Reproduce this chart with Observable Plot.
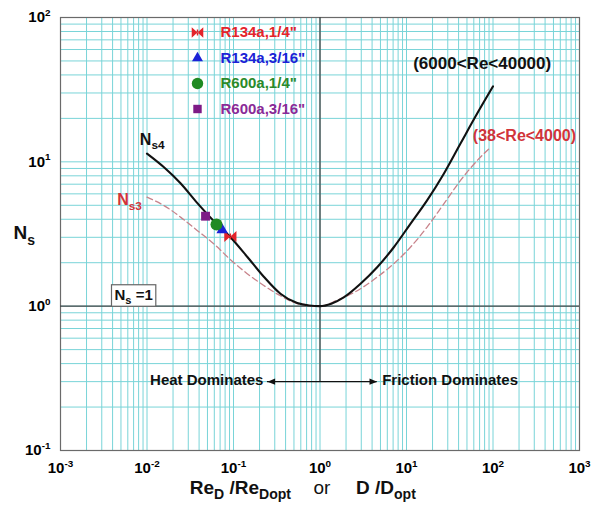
<!DOCTYPE html>
<html>
<head>
<meta charset="utf-8">
<script src="https://cdn.jsdelivr.net/npm/d3@7"></script>
<script src="https://cdn.jsdelivr.net/npm/@observablehq/plot@0.6"></script>
<style>
  html, body { margin: 0; padding: 0; background: #fff; }
  #chart { width: 597px; height: 506px; }
</style>
</head>
<body>
<div id="chart"></div>
<script>
// Entropy generation number N_s4, turbulent flow (6000 < Re < 40000)
const ns4Ratio = [0.01, 0.0156, 0.0244, 0.038, 0.059, 0.0923, 0.144, 0.224, 0.349, 0.545, 0.75, 1, 1.35, 1.88, 2.94, 4.58, 7.13, 11.1, 17.3, 27.0, 42.1, 65.6, 100];
const ns4Value = [11.4, 9.2, 7.1, 5.2, 3.9, 3.0, 2.2, 1.6, 1.22, 1.05, 1.01, 1.0, 1.04, 1.15, 1.43, 1.86, 2.56, 3.72, 5.41, 8.28, 13.4, 21.6, 33.3];

// Entropy generation number N_s3, laminar flow (38 < Re < 4000)
const ns3Ratio = [0.01, 0.0156, 0.0244, 0.038, 0.059, 0.0923, 0.144, 0.224, 0.349, 0.545, 0.75, 1, 1.58, 2.94, 4.58, 7.13, 11.1, 17.3, 27.0, 42.1, 65.6, 93.5];
const ns3Value = [5.69, 4.99, 4.14, 3.35, 2.71, 2.1, 1.68, 1.39, 1.18, 1.04, 1.01, 1.0, 1.10, 1.32, 1.59, 1.97, 2.56, 3.53, 5.11, 7.43, 10.2, 12.6];

// Operating points of the tested tubes
const caseNames = ["R134a,1/4\"", "R134a,3/16\"", "R600a,1/4\"", "R600a,3/16\""];
const caseRatio = [0.092, 0.074, 0.0636, 0.0475];
const caseNs = [3.04, 3.38, 3.68, 4.2];

// Axis ticks (powers of ten)
const xTicks = [1e-3, 1e-2, 1e-1, 1e0, 1e1, 1e2, 1e3];
const yTicks = [1e-1, 1e0, 1e1, 1e2];

// ---- drawing ----
const gridColor = "#79d4d8";
const lineDark = "#444";

const ns4 = ns4Ratio.map((x, i) => ({x, y: ns4Value[i]}));
const ns3 = ns3Ratio.map((x, i) => ({x, y: ns3Value[i]}));
const cases = caseNames.map((name, i) => ({name, x: caseRatio[i], y: caseNs[i]}));

// bow-tie marker: two triangles meeting at the centre
const bowtie = {
  draw(ctx, size) {
    const r = Math.sqrt(size / Math.PI);
    const w = r * 1.05, h = r * 0.95;
    ctx.moveTo(-w, -h); ctx.lineTo(0, 0); ctx.lineTo(-w, h); ctx.closePath();
    ctx.moveTo(w, -h); ctx.lineTo(0, 0); ctx.lineTo(w, h); ctx.closePath();
    ctx.moveTo(-0.7, -h * 0.55); ctx.lineTo(0.7, -h * 0.55); ctx.lineTo(0.7, h * 0.55); ctx.lineTo(-0.7, h * 0.55); ctx.closePath();
  }
};
// filled arrow head with its tip at the origin, pointing right
const arrowHead = {
  draw(ctx, size) {
    const r = Math.sqrt(size / Math.PI);
    ctx.moveTo(0, 0); ctx.lineTo(-2.4 * r, -r); ctx.lineTo(-2.4 * r, r); ctx.closePath();
  }
};

const caseStyle = [
  {symbol: bowtie, color: "#e3242b", text: "#e3242b", r: 5.8},
  {symbol: "triangle", color: "#1b22d6", text: "#1b22d6", r: 4.3},
  {symbol: "circle", color: "#1f8a22", text: "#2a8a2a", r: 6.0},
  {symbol: "square", color: "#7d1a86", text: "#8a2a97", r: 5.0}
];

const caseMarks = cases.map((c, i) => Plot.dot([c], {
  x: "x", y: "y", symbol: caseStyle[i].symbol, r: caseStyle[i].r,
  fill: caseStyle[i].color, stroke: "none"
}));

const legendMarks = cases.flatMap((c, i) => [
  Plot.dot([c], {
    frameAnchor: "top-left", dx: 137, dy: 15 + i * 25.5,
    symbol: caseStyle[i].symbol, r: caseStyle[i].r * 0.95,
    fill: caseStyle[i].color, stroke: "none"
  }),
  Plot.text([c.name], {
    frameAnchor: "top-left", dx: 160, dy: 15 + i * 25.5,
    textAnchor: "start", lineAnchor: "middle",
    fill: caseStyle[i].text, fontSize: 15, fontWeight: "bold"
  })
]);

const powerLabel = v => `10^{${Math.round(Math.log10(v))}}`;

const chart = Plot.plot({
  width: 597,
  height: 506,
  marginLeft: 60,
  marginRight: 18,
  marginTop: 17,
  marginBottom: 56,
  style: {
    fontFamily: "'Liberation Sans', Arial, Helvetica, sans-serif",
    fontSize: "15px",
    fontWeight: "bold",
    color: "#000",
    background: "#fff"
  },
  x: {type: "log", domain: [1e-3, 1e3], label: null},
  y: {type: "log", domain: [1e-1, 1e2], label: null},
  marks: [
    // log grid
    Plot.ruleX(d3.scaleLog().domain([1e-3, 1e3]).ticks(), {stroke: gridColor, strokeWidth: 1}),
    Plot.ruleY(d3.scaleLog().domain([1e-1, 1e2]).ticks(), {stroke: gridColor, strokeWidth: 1}),
    Plot.frame({stroke: "#6a6a6a", strokeWidth: 1.2}),

    // optimum reference lines
    Plot.ruleY([1], {stroke: lineDark, strokeWidth: 1.3}),
    Plot.ruleX([1], {y1: 0.3, y2: 100, stroke: lineDark, strokeWidth: 1.3}),

    // heat / friction arrow
    Plot.ruleY([0.3], {x1: 0.247, x2: 4.58, stroke: "#111", strokeWidth: 1.3}),
    Plot.dot([{x: 0.247, a: 180}, {x: 4.58, a: 0}], {
      x: "x", y: 0.3, rotate: "a", symbol: arrowHead, r: 3.2, fill: "#111", stroke: "none"
    }),
    Plot.text(["Heat Dominates"], {x: 0.247, y: 0.3, dx: -4, dy: -1, textAnchor: "end", fontSize: 15, fontWeight: "bold", fill: "#111"}),
    Plot.text(["Friction Dominates"], {x: 4.58, y: 0.3, dx: 5, dy: -1, textAnchor: "start", fontSize: 15, fontWeight: "bold", fill: "#111"}),

    // curves
    Plot.line(ns3, {x: "x", y: "y", curve: "monotone-x", stroke: "#c8838b", strokeWidth: 1.3, strokeDasharray: "6,3.5"}),
    Plot.line(ns4, {x: "x", y: "y", curve: "monotone-x", stroke: "#111", strokeWidth: 2.1}),

    // curve labels
    Plot.text(["N_{s4}"], {x: 0.00826, y: 14.3, textAnchor: "start", lineAnchor: "middle", fontSize: 16, fontWeight: "bold", fill: "#111"}),
    Plot.text(["N_{s3}"], {x: 0.00452, y: 5.44, textAnchor: "start", lineAnchor: "middle", fontSize: 16, fontWeight: "bold", fill: "#d2343a"}),
    Plot.text(["(6000<Re<40000)"], {x: 75, y: 47.9, textAnchor: "middle", lineAnchor: "middle", fontSize: 17, fontWeight: "bold", fill: "#111"}),
    Plot.text(["(38<Re<4000)"], {x: 231, y: 15.2, textAnchor: "middle", lineAnchor: "middle", fontSize: 16, fontWeight: "bold", fill: "#d2343a"}),
    Plot.text(["N_{s} =1"], {x: 0.00421, y: 1.196, textAnchor: "start", lineAnchor: "middle", fontSize: 15, fontWeight: "bold", fill: "#111"}),

    // measured points and their key
    ...caseMarks,
    ...legendMarks,

    // axes
    Plot.axisX(xTicks, {tickSize: 0, tickPadding: 12, tickFormat: powerLabel, fontSize: 15, fontWeight: "bold", label: null}),
    Plot.axisY(yTicks, {tickSize: 0, tickPadding: 10, tickFormat: powerLabel, fontSize: 15, fontWeight: "bold", label: null}),

    // axis titles
    Plot.text(["N_{s}"], {frameAnchor: "left", dx: -47, dy: -1, textAnchor: "start", fontSize: 19, fontWeight: "bold", fill: "#111"}),
    Plot.text(["Re_{D} /Re_{Dopt}"], {frameAnchor: "bottom", dx: -29, dy: 43, textAnchor: "end", fontSize: 19, fontWeight: "bold", fill: "#111"}),
    Plot.text(["or"], {frameAnchor: "bottom", dx: 2, dy: 43, textAnchor: "middle", fontSize: 19, fontWeight: "normal", fill: "#111"}),
    Plot.text(["D /D_{opt}"], {frameAnchor: "bottom", dx: 36, dy: 43, textAnchor: "start", fontSize: 19, fontWeight: "bold", fill: "#111"})
  ]
});

document.getElementById("chart").appendChild(chart);

// Turn _{...} and ^{...} into sub/superscript tspans
function richText(el) {
  const s = el.textContent;
  if (!/[_^]\{/.test(s)) return;
  const fs = parseFloat(getComputedStyle(el).fontSize) || 14;
  const parts = s.split(/([_^]\{[^}]*\})/).filter(p => p.length);
  while (el.firstChild) el.removeChild(el.firstChild);
  let shift = 0;
  for (const p of parts) {
    let target = 0, str = p, size = null;
    if (p.startsWith("_{")) { target = 0.3 * fs; str = p.slice(2, -1); size = 0.74 * fs; }
    else if (p.startsWith("^{")) { target = -0.42 * fs; str = p.slice(2, -1); size = 0.66 * fs; }
    const t = document.createElementNS("http://www.w3.org/2000/svg", "tspan");
    if (target - shift !== 0) t.setAttribute("dy", (target - shift).toFixed(2));
    if (size) t.setAttribute("font-size", size.toFixed(2));
    t.textContent = str;
    el.appendChild(t);
    shift = target;
  }
}

const texts = Array.from(chart.querySelectorAll("text"));
let unityLabel = null;
for (const t of texts) {
  if (t.textContent.includes("=1")) unityLabel = t;
  richText(t);
}

// boxed "N_s = 1" label, drawn in the text's own coordinate frame
if (unityLabel) {
  const b = unityLabel.getBBox();
  const rect = document.createElementNS("http://www.w3.org/2000/svg", "rect");
  rect.setAttribute("x", b.x - 3);
  rect.setAttribute("y", b.y - 1);
  rect.setAttribute("width", b.width + 6);
  rect.setAttribute("height", b.height + 1);
  rect.setAttribute("fill", "#fff");
  rect.setAttribute("stroke", "#666");
  rect.setAttribute("stroke-width", "1.2");
  const tf = unityLabel.getAttribute("transform");
  if (tf) rect.setAttribute("transform", tf);
  unityLabel.parentNode.insertBefore(rect, unityLabel);
}
</script>
</body>
</html>
